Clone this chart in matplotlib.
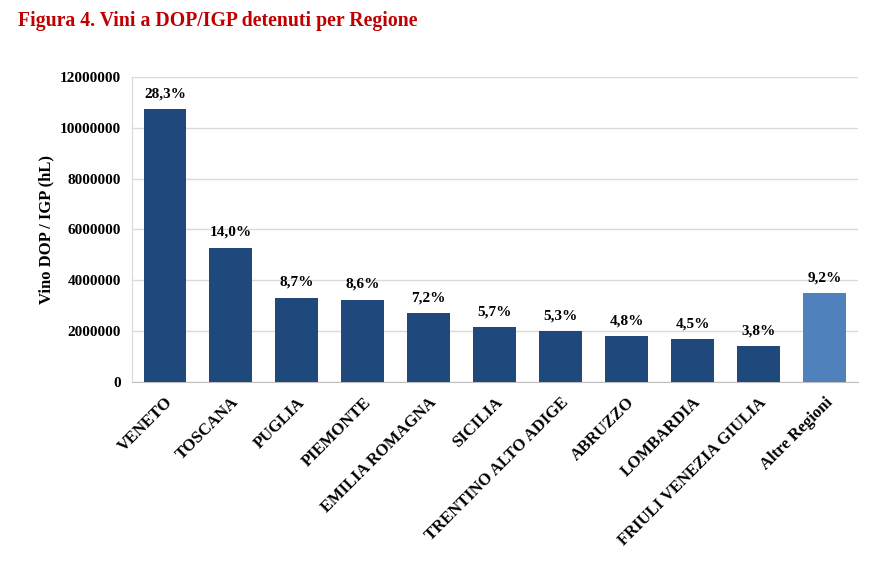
import numpy as np
import matplotlib
matplotlib.use('Agg')
import matplotlib.pyplot as plt

regioni = ['VENETO', 'TOSCANA', 'PUGLIA', 'PIEMONTE', 'EMILIA ROMAGNA', 'SICILIA',
           'TRENTINO ALTO ADIGE', 'ABRUZZO', 'LOMBARDIA', 'FRIULI VENEZIA GIULIA',
           'Altre Regioni']
volumi = [10740000, 5290000, 3320000, 3240000, 2710000, 2150000,
          1990000, 1790000, 1690000, 1410000, 3490000]
quote = ['28,3%', '14,0%', '8,7%', '8,6%', '7,2%', '5,7%',
         '5,3%', '4,8%', '4,5%', '3,8%', '9,2%']

plt.rcParams['font.family'] = ['Liberation Serif', 'DejaVu Serif']

fig = plt.figure(figsize=(8.7, 5.65), dpi=100)
ax = fig.add_axes([0.1517, 0.324, 0.834, 0.5397])

colors = ['#1F497D'] * (len(regioni) - 1) + ['#4F81BD']
x = np.arange(len(regioni))
bars = ax.bar(x, volumi, width=0.65, color=colors, zorder=3)

for b, q in zip(bars, quote):
    ax.text(b.get_x() + b.get_width() / 2, b.get_height() + 350000, q,
            ha='center', va='bottom', fontsize=11, fontweight='bold')

ax.set_xlim(-0.5, len(regioni) - 0.5)
ax.set_ylim(0, 12000000)
ax.set_yticks(np.arange(0, 12000001, 2000000))
ax.set_yticklabels([str(v) for v in range(0, 12000001, 2000000)],
                   fontsize=11, fontweight='bold')
ax.set_xticks(x)
ax.set_xticklabels(regioni, rotation=45, ha='right', rotation_mode='anchor',
                   fontsize=12, fontweight='bold')
ax.tick_params(axis='y', length=0, pad=8)
ax.tick_params(axis='x', length=0, pad=9)

ax.grid(axis='y', color='#D9D9D9', lw=1, zorder=0)
for s in ['top', 'right']:
    ax.spines[s].set_visible(False)
ax.spines['left'].set_color('#D9D9D9')
ax.spines['bottom'].set_color('#BFBFBF')

ax.set_ylabel('Vino DOP / IGP (hL)', fontsize=12, fontweight='bold', labelpad=4)

fig.text(0.021, 0.963, 'Figura 4. Vini a DOP/IGP detenuti per Regione',
         color='#C00000', fontsize=14.2, fontweight='bold', ha='left', va='center')

fig.savefig('out.png', dpi=100)
